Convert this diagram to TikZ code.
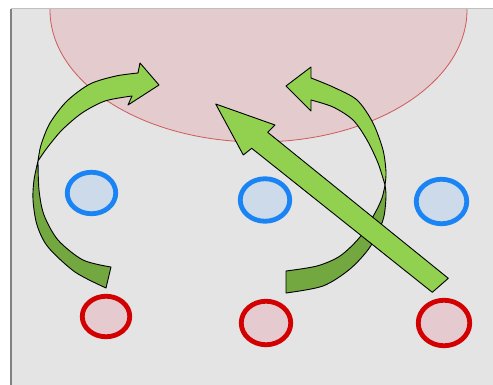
\documentclass[tikz,border=0pt]{standalone}
\usetikzlibrary{shapes.geometric}
\definecolor{panel}{HTML}{E4E4E4}
\definecolor{pinkfill}{HTML}{E3CBCE}
\definecolor{pinkline}{HTML}{D05A5A}
\definecolor{ringblue}{HTML}{1A84F5}
\definecolor{fillblue}{HTML}{CCDAE9}
\definecolor{ringred}{HTML}{D20000}
\definecolor{fillred}{HTML}{E5CBCF}
\definecolor{lightgreen}{HTML}{92D050}
\definecolor{darkgreen}{HTML}{72A83F}
\tikzset{
  bluering/.style={ellipse, draw=ringblue, fill=fillblue, line width=4.8pt, inner sep=0pt, outer sep=0pt},
  redring/.style={ellipse, draw=ringred, fill=fillred, line width=4.8pt, inner sep=0pt, outer sep=0pt},
  lightarrow/.style={fill=lightgreen, draw=black, line width=0.9pt, line join=round},
  darkarrow/.style={fill=darkgreen, draw=black, line width=0.9pt, line join=round}
}
\begin{document}
\begin{tikzpicture}[x=1pt,y=-1pt]
\useasboundingbox (0,0) rectangle (493,385);
\fill[white] (0,0) rectangle (493,385);
\fill[panel] (11,9) rectangle (493,385);
\begin{scope}
\clip (11,9) rectangle (493,385);
\node[ellipse, draw=pinkline, fill=pinkfill, minimum width=417pt, minimum height=264pt, inner sep=0pt, line width=0.8pt] (zone) at (258.5,10) {};
\end{scope}
\draw[gray!50, line width=1pt] (11,9) -- (493,9);
\draw[gray, line width=2pt] (11,9) -- (11,385);
% rings
\node[bluering, minimum width=48.5pt, minimum height=41.5pt] (b1) at (91.5,193) {};
\node[bluering, minimum width=49.5pt, minimum height=42.5pt] (b2) at (265,200) {};
\node[bluering, minimum width=50.5pt, minimum height=44.5pt] (b3) at (441.5,201.5) {};
\node[redring, minimum width=47.5pt, minimum height=40.5pt] (r1) at (106,316.5) {};
\node[redring, minimum width=49.5pt, minimum height=43.5pt] (r2) at (266,323) {};
\node[redring, minimum width=51.5pt, minimum height=45.5pt] (r3) at (444,323) {};
% left curved arrow
\filldraw[darkarrow] plot[smooth] coordinates {(38,161) (34,180) (33,200) (37,225) (48,247) (75,272) (106,288)} -- (111,267) -- plot[smooth] coordinates {(111,267) (83,260) (58,240) (44,215) (39,190) (38,161)} -- cycle;
\filldraw[lightarrow] plot[smooth] coordinates {(38,161) (41,145) (50,123) (67,101) (90,84) (116,76) (138,73)} -- (140,63) -- (159,85) -- (128,105) -- (132,96) -- plot[smooth] coordinates {(132,96) (105,101) (82,113) (62,130) (47,148) (38,161)} -- cycle;
% right curved arrow
\filldraw[darkarrow] plot[smooth] coordinates {(385,185) (386,197) (383,220) (370,247) (350,269) (323,286) (286,293)} -- (286,271) -- plot[smooth] coordinates {(286,271) (317,266) (340,256) (360,237) (375,213) (382,198) (385,185)} -- cycle;
\filldraw[lightarrow] plot[smooth] coordinates {(311,78) (333,87) (357,100) (373,123) (383,150) (386,172) (385,185)} -- plot[smooth] coordinates {(385,185) (378,163) (367,140) (353,120) (333,107) (311,100)} -- (311,111) -- (286,86) -- (311,67) -- cycle;
% straight arrow
\filldraw[lightarrow] (215.7,104) -- (275,125) -- (267.7,132.3) -- (448.3,278.3) -- (432.3,292.3) -- (251.7,148.3) -- (243.3,155) -- cycle;
\end{tikzpicture}
\end{document}
